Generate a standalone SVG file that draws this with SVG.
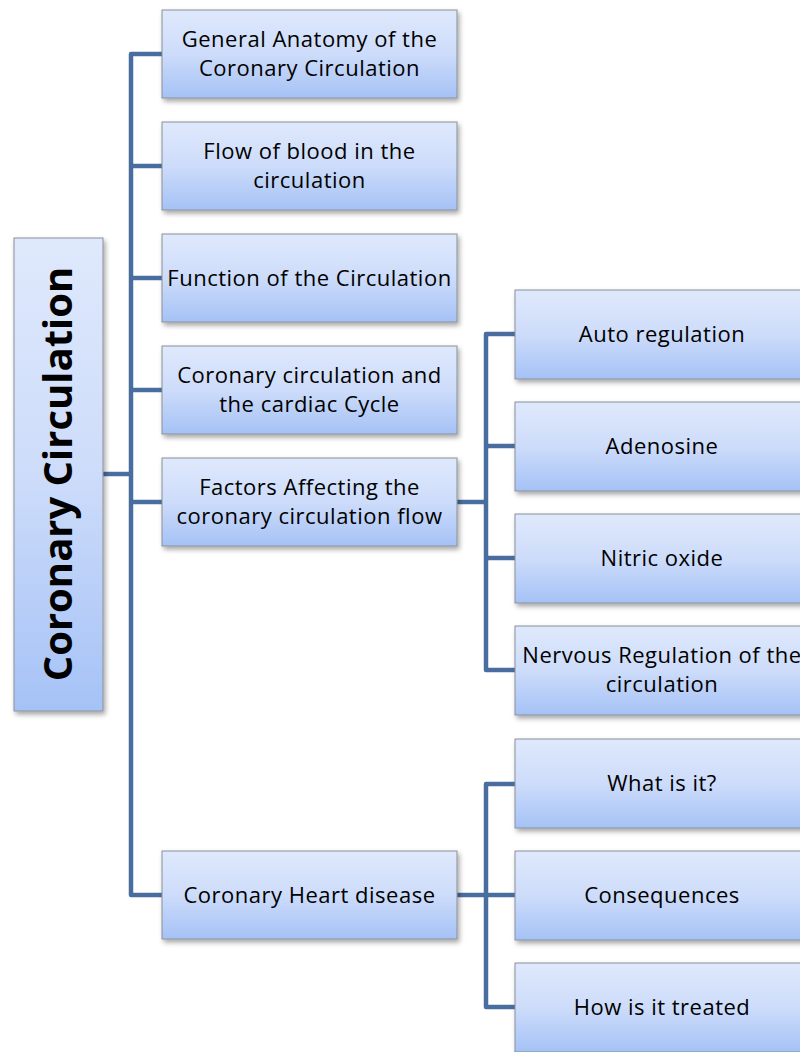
<svg xmlns="http://www.w3.org/2000/svg" width="800" height="1052" viewBox="0 0 800 1052">
<defs>
<linearGradient id="g" x1="0" y1="0" x2="0" y2="1">
<stop offset="0" stop-color="#dfe9fc"/>
<stop offset="0.5" stop-color="#cddcfa"/>
<stop offset="1" stop-color="#a5c2f6"/>
</linearGradient>
<filter id="sh" x="-10%" y="-10%" width="130%" height="140%">
<feDropShadow dx="2" dy="3" stdDeviation="2.5" flood-color="#000" flood-opacity="0.35"/>
</filter>
</defs>
<style>
.box{fill:url(#g);stroke:#8a8f99;stroke-width:1;filter:url(#sh)}
.t{font-family:"Open Sans","Liberation Sans",Arial,sans-serif;font-size:22px;letter-spacing:0.5px;fill:#000;text-anchor:middle}
.root{font-family:"Open Sans","Liberation Sans",Arial,sans-serif;font-size:40px;font-weight:bold;fill:#000;text-anchor:middle}
.c{fill:none;stroke:#4a6da0;stroke-width:4.5;stroke-linejoin:round;stroke-linecap:butt}
</style>
<g id="connectors">
<path class="c" d="M103 474H131"/>
<path class="c" d="M162 54H131V895H162"/>
<path class="c" d="M131 166H162M131 278H162M131 390H162M131 502H162"/>
<path class="c" d="M457 502H486"/>
<path class="c" d="M515 334H486V670H515"/>
<path class="c" d="M486 446H515M486 558H515"/>
<path class="c" d="M457 895H486"/>
<path class="c" d="M515 784H486V1007H515"/>
<path class="c" d="M486 895H515"/>
</g>
<g id="root">
<rect class="box" x="14" y="238" width="89" height="473"/>
<text class="root" transform="translate(72 474) rotate(-90)">Coronary Circulation</text>
</g>
<g id="n1">
<rect class="box" x="162" y="10" width="295" height="88"/>
<text class="t" x="309.5" y="47">General Anatomy of the</text>
<text class="t" x="309.5" y="76">Coronary Circulation</text>
</g>
<g id="n2">
<rect class="box" x="162" y="122" width="295" height="88"/>
<text class="t" x="309.5" y="159">Flow of blood in the</text>
<text class="t" x="309.5" y="188">circulation</text>
</g>
<g id="n3">
<rect class="box" x="162" y="234" width="295" height="88"/>
<text class="t" x="309.5" y="286">Function of the Circulation</text>
</g>
<g id="n4">
<rect class="box" x="162" y="346" width="295" height="88"/>
<text class="t" x="309.5" y="383">Coronary circulation and</text>
<text class="t" x="309.5" y="412">the cardiac Cycle</text>
</g>
<g id="n5">
<rect class="box" x="162" y="458" width="295" height="88"/>
<text class="t" x="309.5" y="495">Factors Affecting the</text>
<text class="t" x="309.5" y="524">coronary circulation flow</text>
</g>
<g id="n6">
<rect class="box" x="162" y="851" width="295" height="88"/>
<text class="t" x="309.5" y="903">Coronary Heart disease</text>
</g>
<g id="n7">
<rect class="box" x="515" y="290" width="295" height="89"/>
<text class="t" x="662" y="342">Auto regulation</text>
</g>
<g id="n8">
<rect class="box" x="515" y="402" width="295" height="89"/>
<text class="t" x="662" y="454">Adenosine</text>
</g>
<g id="n9">
<rect class="box" x="515" y="514" width="295" height="89"/>
<text class="t" x="662" y="566">Nitric oxide</text>
</g>
<g id="n10">
<rect class="box" x="515" y="626" width="295" height="89"/>
<text class="t" x="662" y="663">Nervous Regulation of the</text>
<text class="t" x="662" y="692">circulation</text>
</g>
<g id="n11">
<rect class="box" x="515" y="739" width="295" height="89"/>
<text class="t" x="662" y="791">What is it?</text>
</g>
<g id="n12">
<rect class="box" x="515" y="851" width="295" height="89"/>
<text class="t" x="662" y="903">Consequences</text>
</g>
<g id="n13">
<rect class="box" x="515" y="963" width="295" height="89"/>
<text class="t" x="662" y="1015">How is it treated</text>
</g>
</svg>
